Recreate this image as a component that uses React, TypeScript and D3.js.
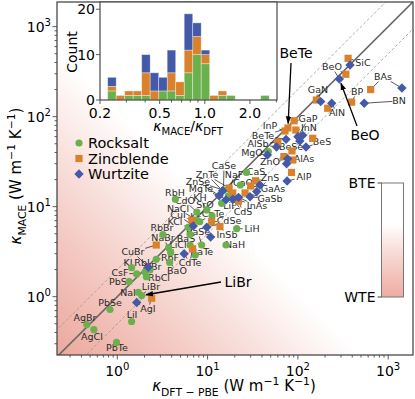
import * as d3 from 'd3'
import { useEffect, useRef } from 'react'

// [material, kappa DFT-PBE, kappa MACE]  (W m^-1 K^-1)
const rocksalt: [string, number, number][] = [
  ["MgO", 47, 41], ["CaS", 27, 24], ["CaO", 23, 17.4], ["CaSe", 15, 15.3],
  ["NaF", 17, 13.2], ["LiF", 14.3, 10.9], ["RbH", 4.4, 12.1], ["CdO", 7.6, 8.7],
  ["KH", 9.8, 9.2], ["SrO", 11.2, 7.9], ["CaTe", 8.2, 6.8], ["NaCl", 7.6, 7.1],
  ["KCl", 6.1, 5.9], ["KF", 6.4, 4.9], ["RbBr", 3.2, 4.9], ["NaBr", 3.7, 3.5],
  ["BaS", 6.4, 3.75], ["LiCl", 3.9, 3.1], ["BaSe", 8.6, 3.75], ["BaTe", 7.3, 2.9],
  ["RbF", 2.7, 2.6], ["BaO", 3.8, 2.4], ["KI", 1.44, 2.1], ["RbI", 2.03, 1.88],
  ["CsF", 1.64, 1.79], ["KBr", 2.3, 1.98], ["RbCl", 2.1, 1.67], ["PbS", 1.35, 1.47],
  ["NaI", 1.71, 1.12], ["LiBr", 1.86, 1.03], ["PbSe", 0.83, 0.72], ["LiI", 1.44, 0.53],
  ["AgBr", 0.46, 0.49], ["AgCl", 0.55, 0.43], ["PbTe", 0.98, 0.31], ["LiH", 21, 5.7],
  ["NaH", 16, 3.75],
]
const zincblende: [string, number, number][] = [
  ["SiC", 360, 445], ["BeO", 340, 296], ["GaN", 160, 153], ["AlN", 214, 124],
  ["BP", 394, 145], ["BAs", 640, 200], ["BeTe", 77.6, 74.9], ["InP", 72, 69.3],
  ["GaP", 91, 90], ["InN", 95, 71], ["BeS", 146, 57.5], ["BeSe", 86, 41.6],
  ["AlP", 85, 24], ["ZnS", 34, 19.4], ["GaAs", 30, 17], ["GaSb", 26, 14.2],
  ["InAs", 20, 12.2], ["ZnTe", 17.3, 16.1], ["ZnSe", 19, 14.2], ["CdS", 22, 11.5],
  ["CdSe", 11.1, 6.8], ["InSb", 13.7, 6.0], ["CuI", 6.7, 7.1], ["CuBr", 2.7, 3.75],
  ["CdTe", 6.8, 3.4], ["AgI", 2.4, 0.96], ["AlAs", 88, 33], ["AlSb", 60, 52],
  ["ZnO", 70, 36],
]
const wurtzite: [string, number, number][] = [
  ["SiC", 378, 375], ["BeO", 288, 262], ["GaN", 179, 147], ["AlN", 237, 141],
  ["BN", 543, 141], ["BAs", 1420, 208], ["InN", 113, 62], ["BeTe", 74, 56],
  ["AlSb", 58, 46], ["BeS", 123, 46], ["BeSe", 105, 53.7], ["MgO", 46, 37.5],
  ["ZnO", 77, 34], ["AlAs", 75, 30], ["AlP", 76, 19.3], ["GaAs", 38, 17.4],
  ["ZnS", 35, 14.7], ["GaSb", 29.5, 12.9], ["InAs", 22, 12.7], ["CdS", 19, 12.1],
  ["ZnTe", 14.7, 15], ["ZnSe", 16, 11.9], ["MgTe", 13.4, 13.2], ["CdSe", 9.8, 5.9],
  ["InSb", 10.8, 4.6], ["CuI", 6.95, 6.1], ["CuBr", 2.2, 2.12], ["AgI", 1.64, 0.86],
  ["CdTe", 5.5, 3.0], ["GaP", 100, 60],
]

// inset histogram of kappa_MACE / kappa_DFT (stacked counts)
const binEdges = [0.225, 0.2564, 0.2921, 0.3329, 0.3793, 0.4322, 0.4925, 0.5612, 0.6395, 0.7287,
  0.8303, 0.946, 1.078, 1.228, 1.4, 1.595, 1.817, 2.071, 2.36, 2.689]
const histRocksalt = [2, 0, 1, 1, 1, 0, 2, 2, 1, 6, 10, 8, 0, 1, 1, 0, 0, 0, 1]
const histZincblende = [1, 1, 1, 1, 5, 2, 0, 4, 3, 5, 4, 2, 1, 1, 0, 0, 0, 0, 0]
const histWurtzite = [2, 0, 0, 0, 4, 4, 3, 5, 0, 8, 3, 1, 0, 0, 0, 0, 0, 0, 0]
const histTicks = [0.2, 0.5, 1.0, 2.0]
const countTicks = [0, 10, 20]

const structures = ["Rocksalt", "Zincblende", "Wurtzite"]
const mainTicks = [0, 1, 2, 3]

// where each small material label sits (px)
const labelAt: Record<string, [number, number]> = {
  SiC: [363, 63], BeO: [332, 67], GaN: [318, 90], AlN: [337, 113], BP: [357, 92],
  BAs: [383, 77], BN: [399, 101], InP: [270, 126], GaP: [308, 119], InN: [309, 128],
  BeTe: [263, 136], AlSb: [258, 144], BeSe: [291, 147], BeS: [322, 142], MgO: [252, 153],
  ZnO: [270, 162], AlAs: [304, 159], AlP: [304, 177], CaSe: [224, 166], NaF: [234, 175],
  CaS: [256, 172], ZnS: [270, 178], ZnTe: [207, 175], ZnSe: [198, 182], MgTe: [201, 189],
  CaO: [243, 183], GaAs: [273, 189], GaSb: [270, 199], RbH: [175, 193], KH: [200, 198],
  CdO: [185, 201], SrO: [205, 205], LiF: [230, 206], InAs: [257, 206], NaCl: [178, 209],
  CdS: [243, 212], CaTe: [213, 214], CuI: [178, 215], KF: [196, 217], CdSe: [229, 221],
  KCl: [175, 222], RbBr: [162, 228], LiH: [252, 229], BaSe: [198, 232], InSb: [227, 235],
  NaBr: [163, 238], BaS: [186, 239], LiCl: [178, 245], NaH: [235, 245], CuBr: [133, 252],
  BaTe: [202, 252], RbF: [170, 258], CdTe: [190, 263], KI: [128, 263], RbI: [142, 263],
  KBr: [153, 267], BaO: [177, 271], CsF: [120, 273], RbCl: [159, 278], PbS: [118, 282],
  LiBr: [151, 287], NaI: [128, 293], AgI: [148, 309], PbSe: [110, 303], LiI: [132, 315],
  AgBr: [85, 318], AgCl: [92, 337], PbTe: [117, 348],
}

const GREEN = "#6ab04c", ORANGE = "#d9822b", BLUE = "#4459a8", SPINE = "#4a4a4a"
const FONT = "DejaVu Sans, sans-serif"

// text with italic / sub / sup pieces
function rich(sel, parts, size) {
  let shift = 0
  parts.forEach(([t, k]) => {
    const want = k === "sub" ? size * 0.3 : k === "sup" ? -size * 0.42 : 0
    const sp = sel.append("tspan").attr("dy", want - shift).text(t)
    if (k === "sub" || k === "sup") sp.attr("font-size", size * 0.72)
    if (k === "it") sp.attr("font-style", "italic")
    shift = want
  })
}

function marker(sel, type, color) {
  if (type === 0) sel.append("circle").attr("r", 3.6).attr("fill", color)
  else if (type === 1) sel.append("rect").attr("x", -3.6).attr("y", -3.6).attr("width", 7.2).attr("height", 7.2).attr("fill", color)
  else sel.append("path").attr("d", "M0,-4.7L4.7,0L0,4.7L-4.7,0Z").attr("fill", color)
}

function drawChart(el) {
  const svg = d3.select(el)
  svg.selectAll("*").remove()
  const L = 57, R = 413, T = 2, B = 355
  const x = d3.scaleLog().domain([0.2148, 1884]).range([L, R])
  const y = d3.scaleLog().domain([0.2249, 1879]).range([B, T])

  const defs = svg.append("defs")
  const bg = defs.append("linearGradient").attr("id", "bg")
    .attr("gradientUnits", "userSpaceOnUse")
    .attr("x1", L).attr("y1", B).attr("x2", R).attr("y2", T)
  ;[[0, "#eca89d"], [0.16, "#f3c6bf"], [0.3, "#f9e3df"], [0.43, "#ffffff"]]
    .forEach(([o, c]) => bg.append("stop").attr("offset", o).attr("stop-color", c))
  const cb = defs.append("linearGradient").attr("id", "cb").attr("x1", 0).attr("y1", 0).attr("x2", 0).attr("y2", 1)
  ;[[0, "#ffffff"], [0.36, "#ffffff"], [0.6, "#f8dcd7"], [1, "#eeaca2"]]
    .forEach(([o, c]) => cb.append("stop").attr("offset", o).attr("stop-color", c))
  defs.append("clipPath").attr("id", "plot").append("rect")
    .attr("x", L).attr("y", T).attr("width", R - L).attr("height", B - T)
  defs.append("marker").attr("id", "ah").attr("viewBox", "0 0 10 10")
    .attr("refX", 9).attr("refY", 5).attr("markerWidth", 6).attr("markerHeight", 6)
    .attr("orient", "auto").append("path").attr("d", "M0,1.5L10,5L0,8.5Z").attr("fill", "#000")

  svg.append("rect").attr("x", L).attr("y", T).attr("width", R - L).attr("height", B - T).attr("fill", "url(#bg)")

  // parity lines
  const g = svg.append("g").attr("clip-path", "url(#plot)")
  const lo = 0.1, hi = 5000
  ;[2, 0.5].forEach(f => g.append("line")
    .attr("x1", x(lo)).attr("y1", y(lo * f)).attr("x2", x(hi)).attr("y2", y(hi * f))
    .attr("stroke", "#9a9a9a").attr("stroke-width", 0.8).attr("stroke-dasharray", "3,2"))
  g.append("line").attr("x1", x(lo)).attr("y1", y(lo)).attr("x2", x(hi)).attr("y2", y(hi))
    .attr("stroke", "#666").attr("stroke-width", 1.6)

  // leader lines + labels
  const all = [...rocksalt, ...zincblende, ...wurtzite]
  const lab = svg.append("g")
  Object.entries(labelAt).forEach(([name, [lx, ly]]) => {
    const w = name.length * 5.6 + 2, h = 9
    all.filter(d => d[0] === name).forEach(d => {
      const px = x(d[1]), py = y(d[2])
      const dx = px - lx, dy = py - ly
      const t = Math.min(w / 2 / Math.max(Math.abs(dx), 1e-6), h / 2 / Math.max(Math.abs(dy), 1e-6))
      if (t >= 1) return
      lab.append("line").attr("x1", lx + dx * t).attr("y1", ly + dy * t).attr("x2", px).attr("y2", py)
        .attr("stroke", "#111").attr("stroke-width", 0.7)
    })
  })

  // points
  ;[rocksalt, zincblende, wurtzite].forEach((set, i) => {
    svg.append("g").selectAll("g").data(set).enter().append("g")
      .attr("transform", d => "translate(" + x(d[1]) + "," + y(d[2]) + ")")
      .each(function () { marker(d3.select(this), i, [GREEN, ORANGE, BLUE][i]) })
  })

  Object.entries(labelAt).forEach(([name, [lx, ly]]) => {
    lab.append("text").attr("x", lx).attr("y", ly + 3.3).attr("text-anchor", "middle")
      .attr("font-family", FONT).attr("font-size", 9.5).attr("fill", "#2a2a2a").text(name)
  })

  // big annotations with arrows
  const callout = (text, tx, ty, from, target) => {
    const px = x(target[1]), py = y(target[2])
    const dx = px - from[0], dy = py - from[1], len = Math.hypot(dx, dy)
    svg.append("line").attr("x1", from[0]).attr("y1", from[1])
      .attr("x2", px - dx / len * 4.5).attr("y2", py - dy / len * 4.5)
      .attr("stroke", "#000").attr("stroke-width", 1.3).attr("marker-end", "url(#ah)")
    svg.append("text").attr("x", tx).attr("y", ty).attr("text-anchor", "middle")
      .attr("font-family", FONT).attr("font-size", 14).text(text)
  }
  callout("BeTe", 296, 58, [291, 63], zincblende.find(d => d[0] === "BeTe"))
  callout("BeO", 365, 140, [357, 126], wurtzite.find(d => d[0] === "BeO"))
  callout("LiBr", 238, 287, [221, 282], rocksalt.find(d => d[0] === "LiBr"))

  // legend
  structures.forEach((s, i) => {
    const row = svg.append("g").attr("transform", "translate(79," + (143 + i * 15.5) + ")")
    marker(row, i, [GREEN, ORANGE, BLUE][i])
    row.append("text").attr("x", 9).attr("y", 5).attr("font-family", FONT).attr("font-size", 14.5).text(s)
  })

  // axes frame and ticks
  svg.append("rect").attr("x", L).attr("y", T).attr("width", R - L).attr("height", B - T)
    .attr("fill", "none").attr("stroke", SPINE).attr("stroke-width", 1.3)
  const minors = []
  for (let e = -1; e <= 3; e++) for (let k = 2; k <= 9; k++) minors.push(k * Math.pow(10, e))
  const ax = svg.append("g").attr("stroke", SPINE).attr("stroke-width", 0.9)
  minors.filter(v => v > 0.2148 && v < 1879).forEach(v => {
    ax.append("line").attr("x1", x(v)).attr("x2", x(v)).attr("y1", B).attr("y2", B + 2.5)
    ax.append("line").attr("y1", y(v)).attr("y2", y(v)).attr("x1", L).attr("x2", L - 2.5)
  })
  mainTicks.forEach(e => {
    const v = Math.pow(10, e)
    ax.append("line").attr("x1", x(v)).attr("x2", x(v)).attr("y1", B).attr("y2", B + 4.5)
    ax.append("line").attr("y1", y(v)).attr("y2", y(v)).attr("x1", L).attr("x2", L - 4.5)
    const tx = svg.append("text").attr("x", x(v)).attr("y", B + 21).attr("text-anchor", "middle")
      .attr("font-family", FONT).attr("font-size", 14)
    rich(tx, [["10", "n"], [String(e), "sup"]], 14)
    const ty = svg.append("text").attr("x", 51).attr("y", y(v) + 5).attr("text-anchor", "end")
      .attr("font-family", FONT).attr("font-size", 14)
    rich(ty, [["10", "n"], [String(e), "sup"]], 14)
  })
  const xl = svg.append("text").attr("x", 234).attr("y", 391).attr("text-anchor", "middle")
    .attr("font-family", FONT).attr("font-size", 15)
  rich(xl, [["κ", "it"], ["DFT − PBE", "sub"], [" (W m", "n"], ["−1", "sup"], [" K", "n"], ["−1", "sup"], [")", "n"]], 15)
  const yl = svg.append("text").attr("transform", "translate(21,176) rotate(-90)").attr("text-anchor", "middle")
    .attr("font-family", FONT).attr("font-size", 15)
  rich(yl, [["κ", "it"], ["MACE", "sub"], [" (W m", "n"], ["−1", "sup"], [" K", "n"], ["−1", "sup"], [")", "n"]], 15)

  // colorbar
  const cx = 381.5, cy = 183, cw = 22, ch = 114
  svg.append("rect").attr("x", cx).attr("y", cy).attr("width", cw).attr("height", ch)
    .attr("fill", "url(#cb)").attr("stroke", "#777").attr("stroke-width", 1)
  ;[["BTE", cy], ["WTE", cy + ch]].forEach(([t, yy]) => {
    svg.append("line").attr("x1", cx - 4).attr("x2", cx).attr("y1", yy).attr("y2", yy).attr("stroke", "#444")
    svg.append("text").attr("x", cx - 6).attr("y", yy + 5).attr("text-anchor", "end")
      .attr("font-family", FONT).attr("font-size", 14).text(t)
  })

  // inset histogram
  const iL = 100, iR = 277, iT = 2, iB = 100
  const hx = d3.scaleLog().domain([0.2, 3.03]).range([iL, iR])
  const hy = d3.scaleLinear().domain([0, 21.6]).range([iB, iT])
  svg.append("rect").attr("x", iL).attr("y", iT).attr("width", iR - iL).attr("height", iB - iT).attr("fill", "#fff")
  const stack = binEdges.slice(0, -1).map((e, i) => ({ i, Rocksalt: histRocksalt[i], Zincblende: histZincblende[i], Wurtzite: histWurtzite[i] }))
  const layers = d3.stack().keys(structures)(stack)
  layers.forEach((layer, k) => {
    svg.append("g").selectAll("rect").data(layer.filter(d => d[1] > d[0])).enter().append("rect")
      .attr("x", d => hx(binEdges[d.data.i]))
      .attr("width", d => hx(binEdges[d.data.i + 1]) - hx(binEdges[d.data.i]))
      .attr("y", d => hy(d[1])).attr("height", d => hy(d[0]) - hy(d[1]))
      .attr("fill", [GREEN, ORANGE, BLUE][k])
      .attr("stroke", "#fff").attr("stroke-opacity", 0.45).attr("stroke-width", 0.8)
  })
  svg.append("rect").attr("x", iL).attr("y", iT).attr("width", iR - iL).attr("height", iB - iT)
    .attr("fill", "none").attr("stroke", SPINE).attr("stroke-width", 1.2)
  const hax = svg.append("g").attr("stroke", SPINE).attr("stroke-width", 0.9)
  ;[0.3, 0.4, 0.6, 0.7, 0.8, 0.9, 3].forEach(v => {
    hax.append("line").attr("x1", hx(v)).attr("x2", hx(v)).attr("y1", iB).attr("y2", iB + 2.5)
  })
  histTicks.forEach(v => {
    hax.append("line").attr("x1", hx(v)).attr("x2", hx(v)).attr("y1", iB).attr("y2", iB + 4)
    svg.append("text").attr("x", hx(v)).attr("y", iB + 18).attr("text-anchor", "middle")
      .attr("font-family", FONT).attr("font-size", 14).text(v.toFixed(1))
  })
  countTicks.forEach(v => {
    hax.append("line").attr("x1", iL).attr("x2", iL - 4).attr("y1", hy(v)).attr("y2", hy(v))
    svg.append("text").attr("x", iL - 5).attr("y", hy(v) + 5).attr("text-anchor", "end")
      .attr("font-family", FONT).attr("font-size", 14).text(v)
  })
  svg.append("text").attr("transform", "translate(77,52) rotate(-90)").attr("text-anchor", "middle")
    .attr("font-family", FONT).attr("font-size", 14).text("Count")
  const hl = svg.append("text").attr("x", 188).attr("y", 131).attr("text-anchor", "middle")
    .attr("font-family", FONT).attr("font-size", 14)
  rich(hl, [["κ", "it"], ["MACE", "sub"], ["/", "n"], ["κ", "it"], ["DFT", "sub"]], 14)
}

function App() {
  const ref = useRef(null)
  useEffect(() => {
    drawChart(ref.current)
  })
  return (
    <svg ref={ref} width={415} height={399} style={{ display: "block", position: "absolute", left: 0, top: 0, background: "#fff" }} />
  )
}

export default App
